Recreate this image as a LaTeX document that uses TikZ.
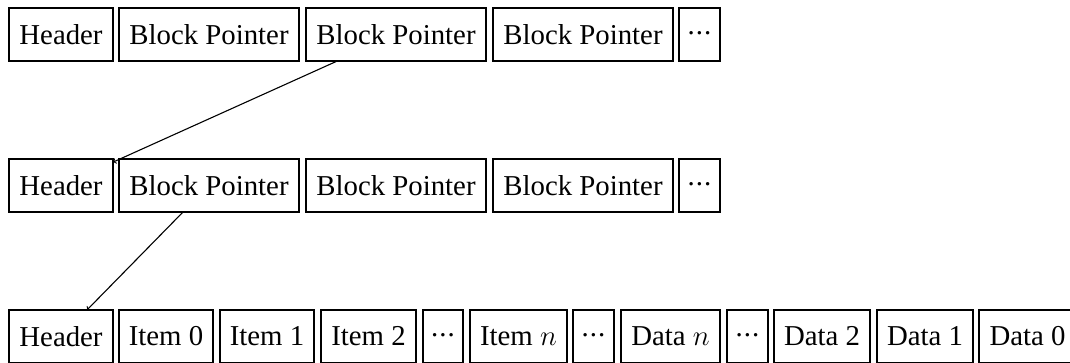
\documentclass[tikz,border=0pt]{standalone}
\usepackage{graphicx}
\usepackage{fontspec}
\setmainfont{Liberation Serif}
% italic math n at the large text size
\newcommand{\nvar}{\scalebox{1.157}{$n$}}
% tight centred ellipsis on the common baseline
\newcommand{\middots}{\vphantom{Header}\raisebox{0.34em}{.\kern0.04em.\kern0.04em.}}
\begin{document}
\begin{tikzpicture}[x=1pt, y=-1pt,
  cell/.style={draw, line width=1.1pt, inner sep=0pt, outer sep=0pt,
    minimum height=53pt, anchor=north west,
    font=\fontsize{28.8}{34}\selectfont},
  link/.style={->, line width=1.1pt}]
\useasboundingbox (0,0) rectangle (1070,363);

% top-level block
\node[cell, minimum width=104pt] (h1)  at (9,8)   {Header};
\node[cell, minimum width=180pt] (bp11) at (119,8) {Block Pointer};
\node[cell, minimum width=180pt] (bp12) at (306,8) {Block Pointer};
\node[cell, minimum width=180pt] (bp13) at (493,8) {Block Pointer};
\node[cell, minimum width=41pt]  (d1)  at (679,8) {\middots};

% second-level block
\node[cell, minimum width=104pt] (h2)  at (9,159)   {Header};
\node[cell, minimum width=180pt] (bp21) at (119,159) {Block Pointer};
\node[cell, minimum width=180pt] (bp22) at (306,159) {Block Pointer};
\node[cell, minimum width=180pt] (bp23) at (493,159) {Block Pointer};
\node[cell, minimum width=41pt]  (d2)  at (679,159) {\middots};

% leaf block: items grow rightwards, data grows leftwards
\node[cell, minimum width=104pt] (h3)  at (9,310)   {Header};
\node[cell, minimum width=94pt]  (i0)  at (119,310) {Item 0};
\node[cell, minimum width=94pt]  (i1)  at (220,310) {Item 1};
\node[cell, minimum width=95pt]  (i2)  at (321,310) {Item 2};
\node[cell, minimum width=40pt]  (di)  at (423,310) {\middots};
\node[cell, minimum width=97pt]  (in)  at (470,310) {Item \nvar};
\node[cell, minimum width=41pt]  (dm)  at (573,310) {\middots};
\node[cell, minimum width=99pt]  (dn)  at (621,310) {Data \nvar};
\node[cell, minimum width=41pt]  (dd)  at (727,310) {\middots};
\node[cell, minimum width=96pt]  (da2) at (774,310) {Data 2};
\node[cell, minimum width=96pt]  (da1) at (877,310) {Data 1};
\node[cell, minimum width=97pt]  (da0) at (979,310) {Data 0};

% pointers
\draw[link] (bp12) -- (h2);
\draw[link] (bp21) -- (h3);
\end{tikzpicture}
\end{document}
